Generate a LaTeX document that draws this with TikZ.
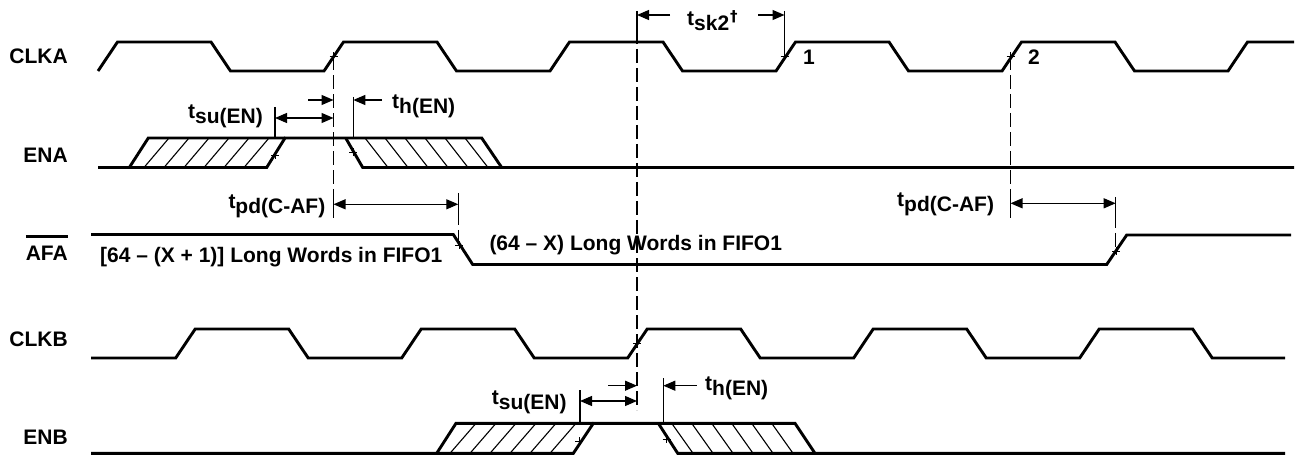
\documentclass[tikz,border=0pt]{standalone}
\usepackage{fontspec}
\setmainfont{Liberation Sans}
\newfontfamily\dvsfont{DejaVu Sans}
\usetikzlibrary{arrows.meta}
\newcommand\tsb[1]{t\raisebox{-5pt}{#1}}
\newcommand\ovl[1]{\vbox{\hrule height 2.4pt\kern 8pt\hbox{#1}}}
\begin{document}
\begin{tikzpicture}[x=1pt,y=-1pt,
  wave/.style={line width=2.9pt, line join=miter},
  hatchln/.style={line width=1.1pt},
  dimone/.style={line width=1.2pt, -{Triangle[length=12pt,width=10pt]}},
  dimtwo/.style={line width=1.2pt, {Triangle[length=12pt,width=10pt]}-{Triangle[length=12pt,width=10pt]}},
  refbar/.style={line width=1.1pt},
  refdash/.style={line width=1.1pt, dash pattern=on 14pt off 5pt},
  lbl/.style={font=\fontsize{21pt}{25pt}\selectfont\bfseries, inner sep=0pt, anchor=base west},
  sig/.style={lbl, anchor=base east},
  pl/.pic={\draw[line width=0.8pt] (-4,0)--(4,0) (0,-4)--(0,4);}
]
\path[use as bounding box] (0,0) rectangle (1301,457);

% signal names
\node[sig] (nclka) at (68,63.5) {CLKA};
\node[sig] (nena) at (68,163) {ENA};
\node[sig] (nafa) at (68,260) {\ovl{AFA}};
\node[sig] (nclkb) at (68,346) {CLKB};
\node[sig] (nenb) at (68,444) {ENB};

% CLKA
\draw[wave] (98,71) foreach \k in {1,...,5}{ -- ++(19.5,-29) -- ++(93.5,0) -- ++(19.5,29) -- ++(93.5,0) } -- ++(19.5,-29) -- (1294,42);
% CLKB
\draw[wave] (91,358) -- (175.7,358) foreach \k in {1,...,4}{ -- ++(19.5,-29) -- ++(93.5,0) -- ++(19.5,29) -- ++(93.5,0) } -- ++(19.5,-29) -- ++(93.5,0) -- ++(19.5,29) -- (1285,358);
% AFA
\draw[wave] (91,234.5) -- (453.3,234.5) -- (472.7,264.5) -- (1106.7,264.5) -- (1126.7,235) -- (1291,235);

% ENA
\draw[wave] (98,167.5) -- (266.7,167.5) -- (285,138) -- (481.7,138) -- (501.7,167.5) -- (1294,167.5);
\draw[wave] (129.3,167.5) -- (148.3,138) -- (285,138);
\draw[wave] (345.7,138) -- (362.7,167.5) -- (501.7,167.5);
\begin{scope}
  \clip (129.3,167.5) -- (148.3,138) -- (285,138) -- (266.7,167.5) -- cycle;
  \foreach \k in {0,...,5} \draw[hatchln] (144+20*\k,167.5) -- (169+20*\k,138);
\end{scope}
\begin{scope}
  \clip (345.7,138) -- (481.7,138) -- (501.7,167.5) -- (362.7,167.5) -- cycle;
  \foreach \k in {0,...,5} \draw[hatchln] (365+20*\k,138) -- (388+20*\k,167.5);
\end{scope}

% ENB
\draw[wave] (91,453.3) -- (573.3,453.3) -- (593.3,423.3) -- (795,423.3) -- (815,453.3) -- (1285,453.3);
\draw[wave] (436.7,453.3) -- (456,423.3) -- (593.3,423.3);
\draw[wave] (658.3,423.3) -- (677.7,453.3) -- (815,453.3);
\begin{scope}
  \clip (436.7,453.3) -- (456,423.3) -- (593.3,423.3) -- (573.3,453.3) -- cycle;
  \foreach \k in {0,...,5} \draw[hatchln] (450+20*\k,453.3) -- (476+20*\k,423.3);
\end{scope}
\begin{scope}
  \clip (658.3,423.3) -- (795,423.3) -- (815,453.3) -- (677.7,453.3) -- cycle;
  \foreach \k in {0,...,5} \draw[hatchln] (671.7+20*\k,423.3) -- (693+20*\k,453.3);
\end{scope}

% reference marks
\pic at (333.5,56.5) {pl};
\pic at (784.5,56) {pl};
\pic at (1010.5,56) {pl};
\pic at (275,155) {pl};
\pic at (353,152) {pl};
\pic at (459,245) {pl};
\pic at (1116,251) {pl};
\pic at (637,343) {pl};
\pic at (579,441) {pl};
\pic at (666.7,439) {pl};

% reference lines
\coordinate (ra1) at (333.5,56.5);  \coordinate (ra1b) at (333.5,196); \coordinate (ra1c) at (333.5,218.5);
\draw[refdash] (ra1) -- (ra1b);
\draw[refbar] (ra1b) -- (ra1c);
\coordinate (rb0) at (637,11); \coordinate (rb1) at (637,30); \coordinate (rb2) at (637,410);
\draw[refbar] (rb0) -- (rb1);
\draw[refdash] (rb1) -- (rb2);
\coordinate (rs0) at (784.5,11); \coordinate (rs1) at (784.5,52);
\draw[refbar] (rs0) -- (rs1);
\coordinate (rc1) at (1010.5,56); \coordinate (rc1b) at (1010.5,198); \coordinate (rc1c) at (1010.5,218);
\draw[refdash] (rc1) -- (rc1b);
\draw[refbar] (rc1b) -- (rc1c);
\coordinate (pL0) at (458.3,193); \coordinate (pL1) at (458.3,211); \coordinate (pL2) at (458.3,245);
\draw[refbar] (pL0) -- (pL1);
\draw[refdash] (pL1) -- (pL2);
\coordinate (pR0) at (1115.7,197); \coordinate (pR1) at (1115.7,214); \coordinate (pR2) at (1115.7,251);
\draw[refbar] (pR0) -- (pR1);
\draw[refdash] (pR1) -- (pR2);
% ENA setup / hold bars
\coordinate (suA0) at (275,107); \coordinate (suA1) at (275,138);
\draw[refbar] (suA0) -- (suA1);
\coordinate (hA0) at (353.3,97); \coordinate (hA1) at (353.3,138);
\draw[refbar] (hA0) -- (hA1);
% ENB setup / hold bars
\coordinate (suB0) at (580,390); \coordinate (suB1) at (580,423.3);
\draw[refbar] (suB0) -- (suB1);
\coordinate (hB0) at (663.3,378); \coordinate (hB1) at (663.3,423.3);
\draw[refbar] (hB0) -- (hB1);

% dimension arrows
\coordinate (a1) at (670,15); \coordinate (a2) at (637,15);
\draw[dimone] (a1) -- (a2);
\coordinate (a3) at (758,15); \coordinate (a4) at (784.5,15);
\draw[dimone] (a3) -- (a4);
\coordinate (a5) at (275,118); \coordinate (a6) at (333.5,118);
\draw[dimtwo] (a5) -- (a6);
\coordinate (a7) at (308,100); \coordinate (a8) at (333.5,100);
\draw[dimone] (a7) -- (a8);
\coordinate (a9) at (382,100); \coordinate (a10) at (353.3,100);
\draw[dimone] (a9) -- (a10);
\coordinate (a11) at (333.5,204.3); \coordinate (a12) at (458.3,204.3);
\draw[dimtwo] (a11) -- (a12);
\coordinate (a13) at (1010.5,203.3); \coordinate (a14) at (1115.7,203.3);
\draw[dimtwo] (a13) -- (a14);
\coordinate (a15) at (580,401); \coordinate (a16) at (637,401);
\draw[dimtwo] (a15) -- (a16);
\coordinate (a17) at (608,385.7); \coordinate (a18) at (637,385.7);
\draw[dimone] (a17) -- (a18);
\coordinate (a19) at (696.7,385.7); \coordinate (a20) at (663.3,385.7);
\draw[dimone] (a19) -- (a20);

% timing labels
\node[lbl] (tsk) at (687,25.5) {\tsb{sk2}\kern1pt\raisebox{4pt}{\dvsfont\bfseries\fontsize{15pt}{17pt}\selectfont †}};
\node[lbl] (tsuA) at (188,119) {\tsb{su(EN)}};
\node[lbl] (thA) at (392,109) {\tsb{h(EN)}};
\node[lbl] (tpdL) at (228.3,209) {\tsb{pd(C-AF)}};
\node[lbl] (tpdR) at (897,207) {\tsb{pd(C-AF)}};
\node[lbl] (tsuB) at (491.7,404) {\tsb{su(EN)}};
\node[lbl] (thB) at (705,390.5) {\tsb{h(EN)}};
\node[lbl] (one) at (803,65) {1};
\node[lbl] (two) at (1028,65) {2};
\node[lbl] (wA) at (100,262) {[64 – (X + 1)] Long Words in FIFO1};
\node[lbl] (wB) at (489.3,250.5) {(64 – X) Long Words in FIFO1};
\end{tikzpicture}
\end{document}
